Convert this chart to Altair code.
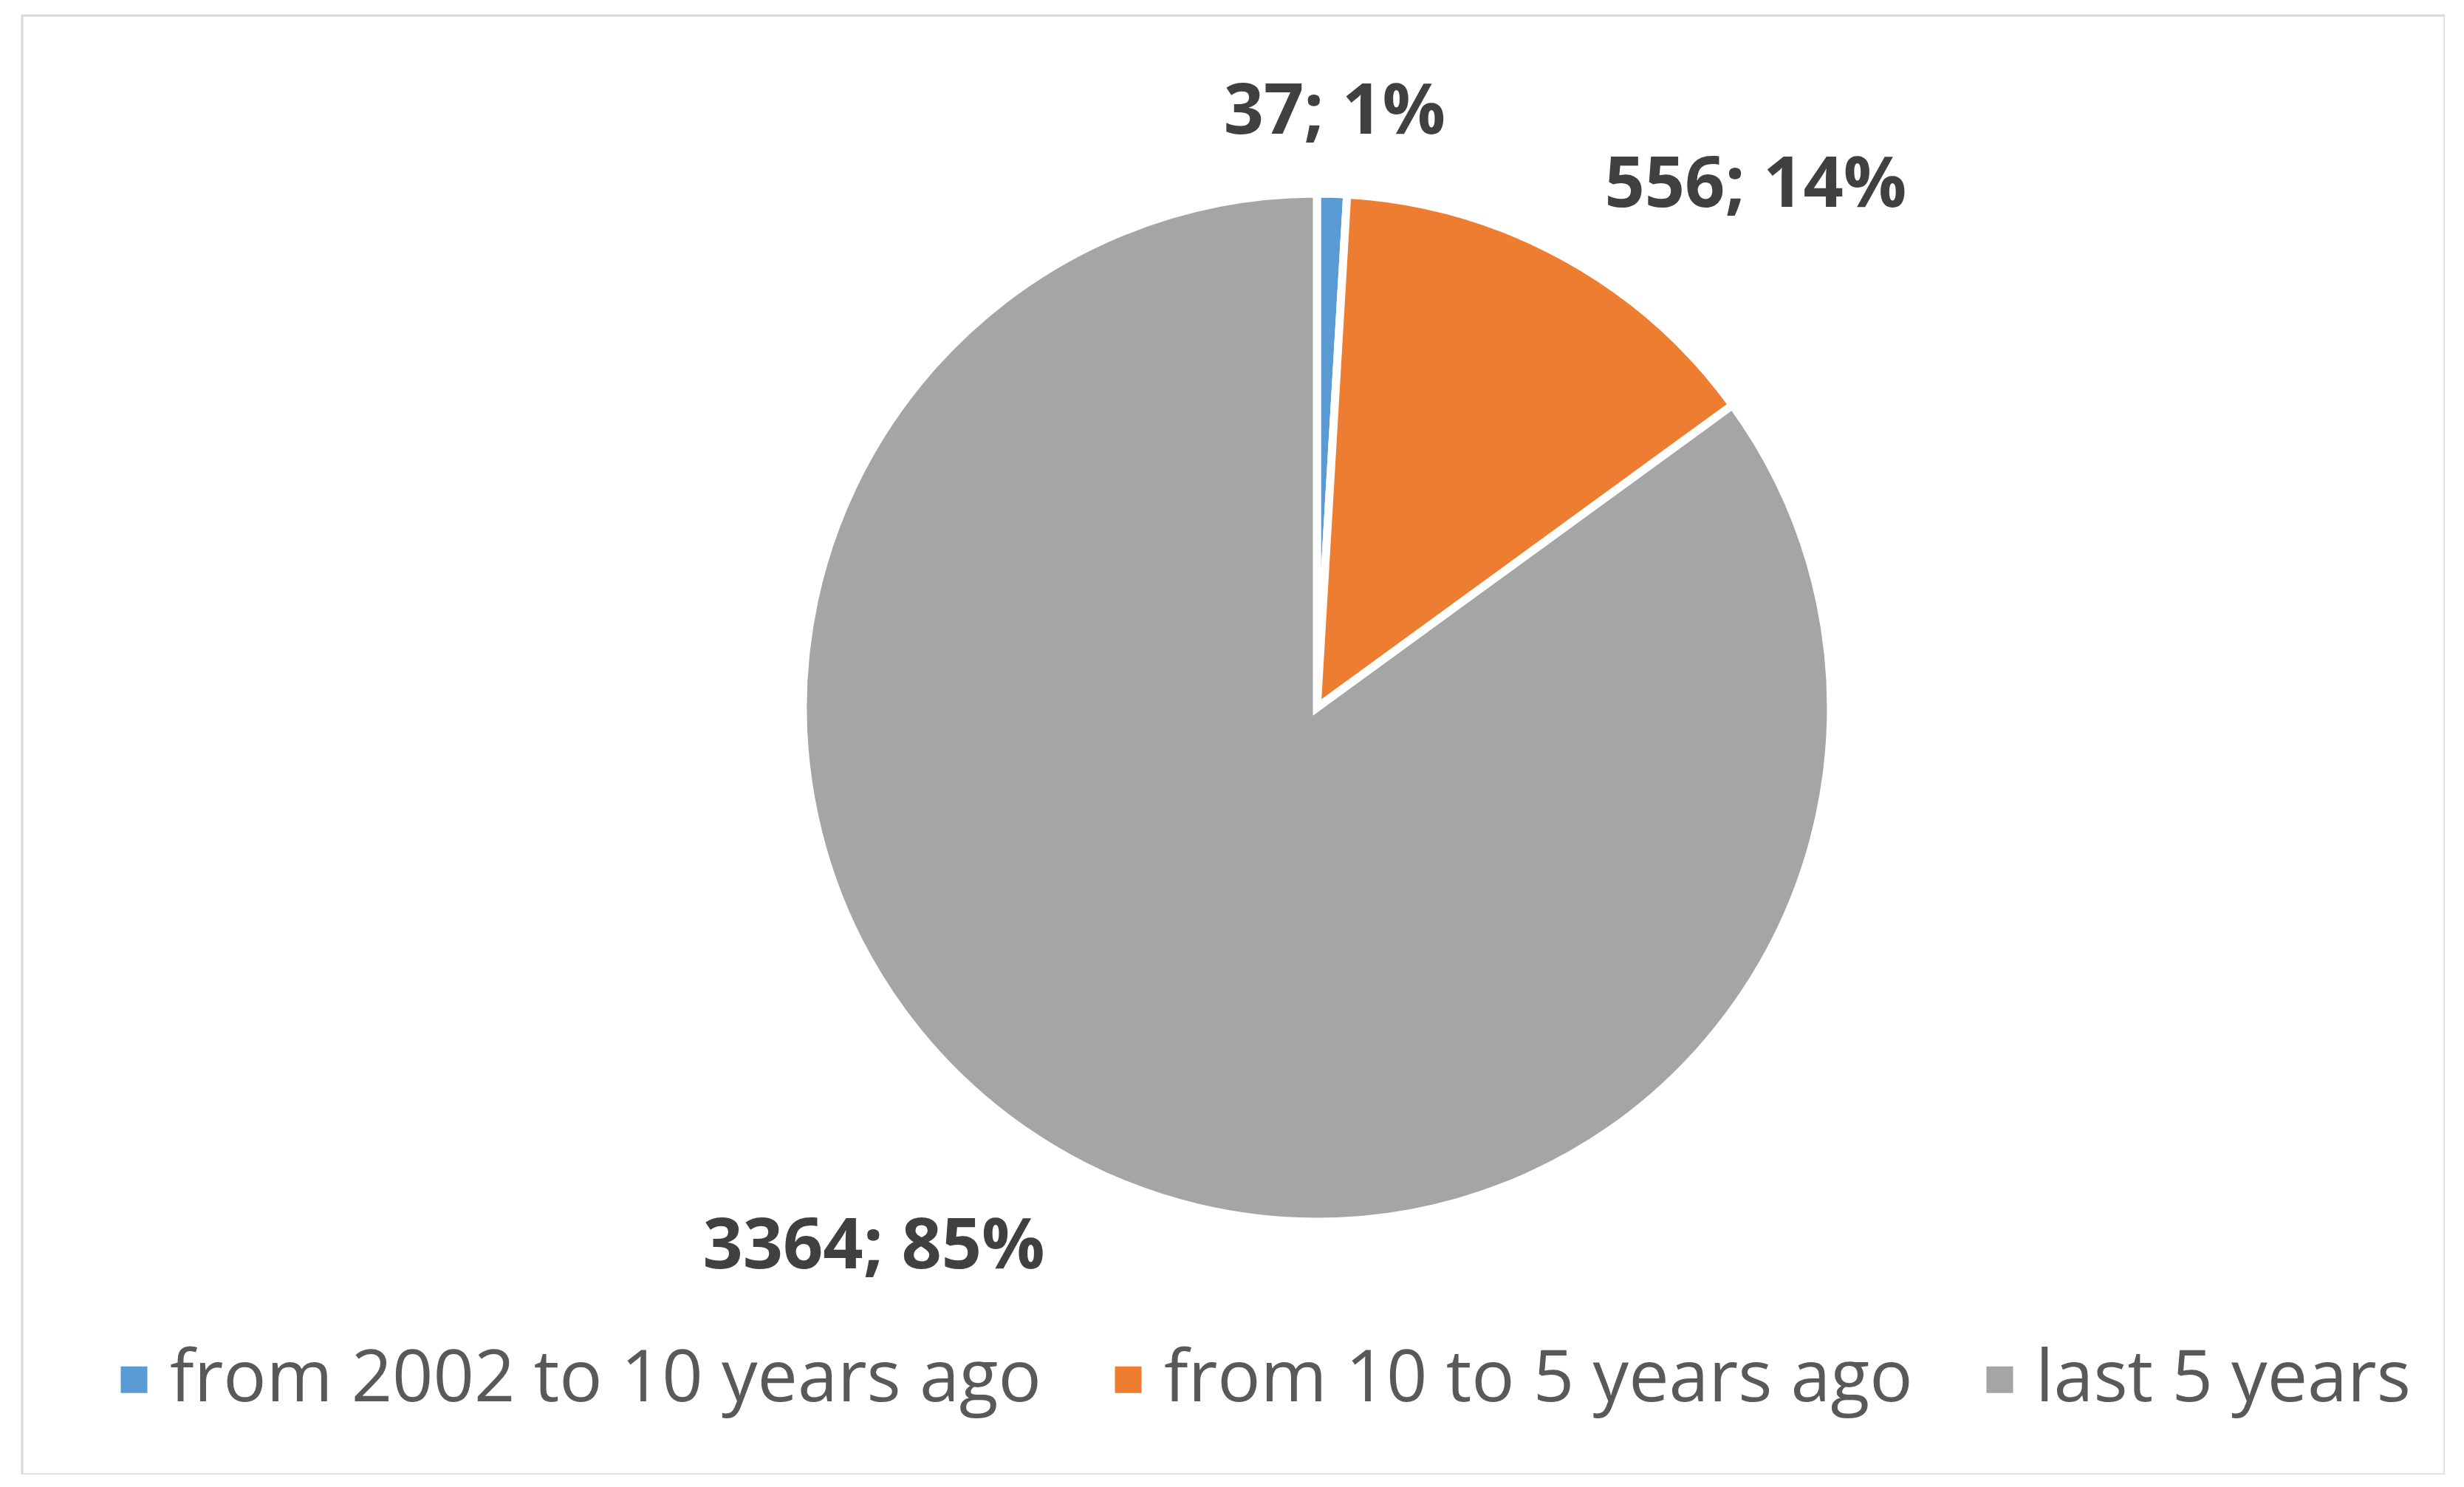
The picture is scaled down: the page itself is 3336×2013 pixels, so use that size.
import altair as alt
import pandas as pd

categories = ["from 2002 to 10 years ago", "from 10 to 5 years ago", "last 5 years"]
counts = [37, 556, 3364]
colors = ["#5B9BD5", "#ED7D31", "#A5A5A5"]

df = pd.DataFrame({"category": categories, "count": counts, "idx": list(range(len(categories)))})

W, H = 3280, 1975
CX, CY = 1753, 937
R = 696
LR = 812

color = alt.Color(
    "category:N",
    scale=alt.Scale(domain=categories, range=colors),
    sort=categories,
    legend=alt.Legend(
        title=None, orient="none", direction="horizontal", legendX=103, legendY=1798,
        labelFont="Open Sans", labelFontSize=97, labelColor="#595959",
        symbolType="square", symbolSize=1300, symbolStrokeWidth=0,
        labelOffset=0, columnPadding=69, padding=0, labelLimit=3000,
    ),
)

pie = alt.Chart(df).mark_arc(outerRadius=R, stroke="white", strokeWidth=11).encode(
    theta=alt.Theta("count:Q", stack=True),
    order=alt.Order("idx:Q"),
    color=color,
    x=alt.value(CX),
    y=alt.value(CY),
)

base_lbl = alt.Chart(df).transform_joinaggregate(
    total="sum(count)"
).transform_window(
    cum="sum(count)", sort=[alt.SortField("idx")], frame=[None, 0]
).transform_calculate(
    mid="(datum.cum - datum.count/2)/datum.total",
    label="datum.count + '; ' + round(datum.count/datum.total*100) + '%'",
)


def lbl(cat, align):
    return base_lbl.transform_filter(alt.datum.category == cat).mark_text(
        radius=LR, align=align, baseline="middle", font="Open Sans",
        fontWeight="bold", fontSize=95, color="#404040", dy=6,
    ).encode(
        theta=alt.Theta("mid:Q", scale=alt.Scale(domain=[0, 1])),
        text="label:N",
        x=alt.value(CX),
        y=alt.value(CY),
    )


labels = lbl(categories[0], "center") + lbl(categories[1], "left") + lbl(categories[2], "right")

chart = alt.layer(pie, labels).resolve_scale(theta="independent").properties(
    width=W, height=H,
    padding={"left": 22, "top": 13, "right": 0, "bottom": 0},
    autosize=alt.AutoSizeParams(type="none"),
    background="white",
).configure_view(stroke="#D9D9D9", strokeWidth=3)

chart.save("out.html", embed_options={"renderer": "svg", "actions": False})
